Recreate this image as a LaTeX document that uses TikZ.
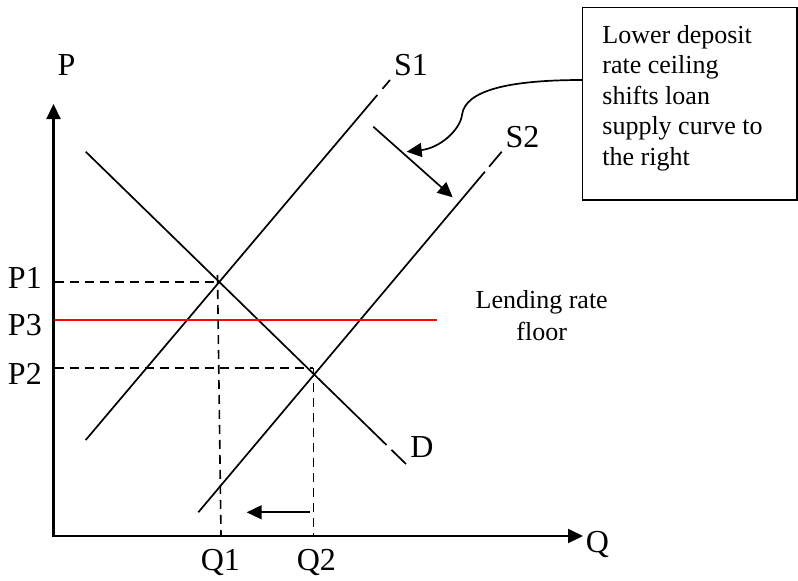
\documentclass[tikz,border=0pt]{standalone}
\usepackage{fontspec}
\setmainfont{Liberation Serif}
\usetikzlibrary{arrows.meta}
\begin{document}
\begin{tikzpicture}[x=1pt,y=-1pt,
  curve/.style={line width=1.7pt},
  axis/.style={line width=2.2pt},
  guide/.style={line width=1.6pt, dash pattern=on 9pt off 6pt},
  tip/.style={-{Triangle[length=15pt,width=14pt]}},
  lab/.style={anchor=base west, inner sep=0pt, font=\fontsize{32}{38}\selectfont},
  note/.style={anchor=base west, inner sep=0pt, font=\fontsize{26}{30}\selectfont},
  notec/.style={anchor=base, inner sep=0pt, font=\fontsize{26}{30}\selectfont},
]
\useasboundingbox (0,0) rectangle (798,581);

% axes
\coordinate (O) at (53.5,536);
\coordinate (Ytop) at (53.5,104);
\coordinate (Xend) at (583,536);
\draw[axis, {Triangle[length=15pt,width=14pt]}-{Triangle[length=15pt,width=14pt]}] (Ytop) -- (O) -- (Xend);

% supply S1 (with small gap near the top)
\coordinate (s1a) at (85.7,440);
\coordinate (s1b) at (377.3,95);
\coordinate (s1c) at (382.5,88.8);
\coordinate (s1d) at (390,80);
\draw[curve] (s1a) -- (s1b);
\draw[curve] (s1c) -- (s1d);

% supply S2
\coordinate (s2a) at (198.3,512.3);
\coordinate (s2b) at (484.9,171.7);
\coordinate (s2c) at (489.1,166.7);
\coordinate (s2d) at (501.7,151.7);
\draw[curve] (s2a) -- (s2b);
\draw[curve] (s2c) -- (s2d);

% demand D
\coordinate (da) at (85.7,151.7);
\coordinate (db) at (386.5,445);
\coordinate (dc) at (391.5,449.9);
\coordinate (dd) at (406,464);
\draw[curve] (da) -- (db);
\draw[curve] (dc) -- (dd);

% lending rate floor
\coordinate (ra) at (54.5,320);
\coordinate (rb) at (437.3,320);
\draw[red, line width=1.7pt] (ra) -- (rb);

% dashed guides
\coordinate (p1a) at (54.5,281.7);
\coordinate (p1b) at (218.3,281.7);
\coordinate (q1a) at (217.5,275);
\coordinate (q1b) at (221,535);
\coordinate (p2a) at (54.5,367.7);
\coordinate (p2b) at (313.3,367.7);
\coordinate (q2a) at (313.3,368.3);
\coordinate (q2b) at (313.3,535);
\draw[guide] (p1a) -- (p1b);
\draw[guide] (q1a) -- (q1b);
\draw[guide] (p2a) -- (p2b);
\draw[guide] (q2a) -- (q2b);

% quantity arrow
\coordinate (qa) at (310,512.3);
\coordinate (qb) at (246.7,512.3);
\draw[curve, tip] (qa) -- (qb);

% shift arrow
\coordinate (sha) at (373.3,126.7);
\coordinate (shb) at (452.7,197.3);
\draw[curve, tip] (sha) -- (shb);

% note box
\node[draw, line width=1.6pt, minimum width=214.6pt, minimum height=192.7pt, inner sep=0pt, outer sep=0pt] (box) at (689.7,103.7) {};
\node[note] (b1) at (602.2,43.3) {Lower deposit};
\node[note] (b2) at (602.2,73.7) {rate ceiling};
\node[note] (b3) at (602.2,104.1) {shifts loan};
\node[note] (b4) at (602.2,134.5) {supply curve to};
\node[note] (b5) at (602.2,165) {the right};

% callout arrow
\coordinate (ctip) at (406.7,151.7);
\draw[curve, tip] ([yshift=23.7pt]box.west) .. controls (510,80) and (465,90) .. (462,115)
  .. controls (460,130) and (440,148) .. (ctip);

% labels
\node[lab] (lP) at (57.5,75) {P};
\node[lab] (lS1) at (393.8,75) {S1};
\node[lab] (lS2) at (505.5,147) {S2};
\node[lab] (lP1) at (7.8,288) {P1};
\node[lab] (lP3) at (7.8,335) {P3};
\node[lab] (lP2) at (7.8,384) {P2};
\node[lab] (lQ1) at (200.6,570) {Q1};
\node[lab] (lQ2) at (296.6,570) {Q2};
\node[lab] (lQ) at (585.6,552) {Q};
\node[lab] (lD) at (410.2,457) {D};

\node[notec] (lend1) at (541.7,308.3) {Lending rate};
\node[notec] (lend2) at (541.7,340.3) {floor};
\end{tikzpicture}
\end{document}
